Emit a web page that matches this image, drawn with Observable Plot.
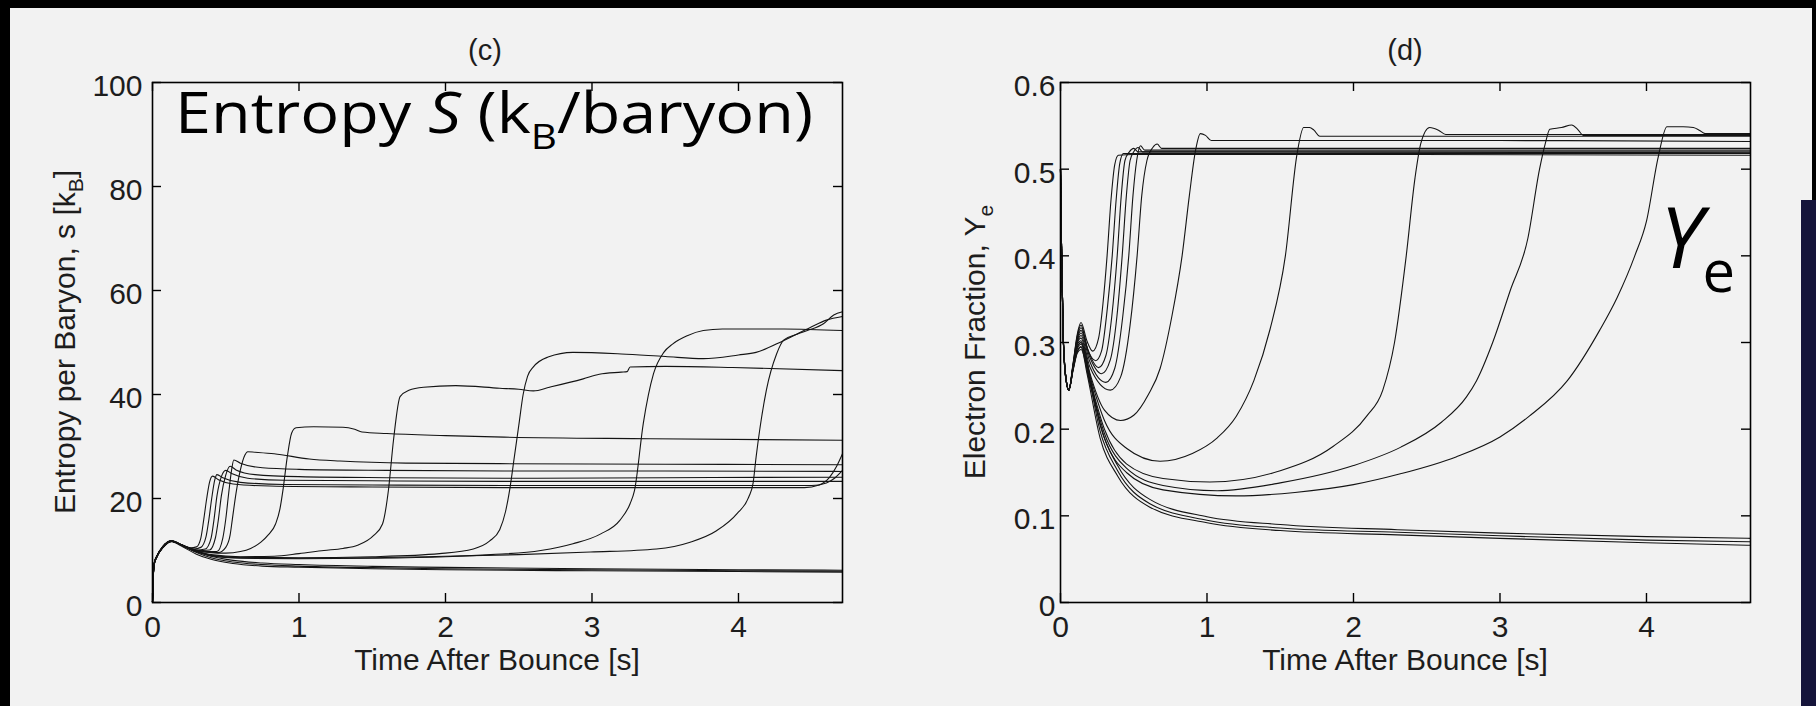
<!DOCTYPE html>
<html><head><meta charset="utf-8">
<script src="https://cdn.jsdelivr.net/npm/d3@7"></script>
<script src="https://cdn.jsdelivr.net/npm/@observablehq/plot@0.6"></script>
<style>
html,body{margin:0;padding:0;background:#000;}
body{width:1816px;height:706px;position:relative;overflow:hidden;}
#panel{position:absolute;left:10px;top:8px;width:1802px;height:698px;background:#f2f2f2;}
#strip{position:absolute;left:1801px;top:200px;width:15px;height:506px;background:#15143a;}
#c,#d{position:absolute;top:0;}
#c{left:0px}
#d{left:908px}
</style></head><body>
<div id="panel"></div><div id="strip"></div>
<div id="c"></div><div id="d"></div>
<script>
// ---------- ticks ----------
const timeTicks = [0, 1, 2, 3, 4];
const entropyTicks = [0, 20, 40, 60, 80, 100];
const yeTicks = [0, 0.1, 0.2, 0.3, 0.4, 0.5, 0.6];

// ---------- entropy (k_B/baryon) vs time after bounce (s) ----------
const entropyN1 = [[0,0],[0.004,4.2],[0.012,7.5],[0.03,8.9],[0.07,10.7],[0.13,11.8],[0.2,11.0],[0.3,9.6],[0.4,8.6],[0.55,7.8],[0.75,7.3],[1,7.0],[1.5,6.7],[2,6.5],[3,6.3],[4,6.1],[4.71,6.0]];
const entropyN2 = [[0,0],[0.004,4.0],[0.012,7.3],[0.03,8.8],[0.07,10.5],[0.13,11.7],[0.2,10.8],[0.3,9.3],[0.4,8.3],[0.55,7.5],[0.75,7.0],[1,6.8],[1.5,6.5],[2,6.3],[3,6.1],[4,5.95],[4.71,5.85]];
const entropyN3 = [[0,0],[0.004,4.4],[0.012,7.7],[0.03,9.0],[0.07,10.8],[0.13,11.9],[0.2,11.1],[0.3,9.8],[0.4,8.9],[0.55,8.1],[0.75,7.6],[1,7.3],[1.5,6.95],[2,6.75],[3,6.5],[4,6.3],[4.71,6.2]];
const entropyK1 = [[0,0],[0.004,4.0],[0.012,7.4],[0.03,8.8],[0.07,10.6],[0.13,11.8],[0.2,11.1],[0.26,10.5],[0.3,10.7],[0.33,12.4],[0.35,16],[0.37,20],[0.39,23.2],[0.41,24.3],[0.45,23.6],[0.55,22.8],[0.8,22.4],[1.5,22.2],[2.4,22.1],[3.5,22.1],[4.45,22.1],[4.55,22.6],[4.62,24],[4.67,26.2],[4.71,28.6]];
const entropyK2 = [[0,0],[0.004,4.1],[0.012,7.4],[0.03,8.8],[0.07,10.6],[0.13,11.8],[0.2,11.1],[0.28,10.3],[0.33,10.6],[0.365,12.6],[0.385,16],[0.405,20.2],[0.425,23.6],[0.44,24.6],[0.48,24.0],[0.6,23.1],[0.9,22.7],[1.5,22.6],[2.4,22.5],[3.5,22.5],[4.5,22.5],[4.6,23],[4.66,24],[4.71,25.4]];
const entropyK3 = [[0,0],[0.004,4.1],[0.012,7.4],[0.03,8.8],[0.07,10.6],[0.13,11.8],[0.2,11.0],[0.3,10.1],[0.36,10.3],[0.4,12.4],[0.42,16],[0.44,20.5],[0.47,24.2],[0.5,25.4],[0.54,24.8],[0.65,23.9],[0.9,23.5],[1.5,23.4],[2.4,23.3],[4.71,23.3]];
const entropyK4 = [[0,0],[0.004,4.2],[0.012,7.5],[0.03,8.9],[0.07,10.6],[0.13,11.8],[0.2,11.0],[0.3,10.0],[0.39,10.1],[0.43,12.5],[0.45,16],[0.47,20.5],[0.5,24.5],[0.53,26.2],[0.57,25.5],[0.7,24.6],[1,24.2],[1.6,24.0],[2.4,23.9],[3.5,24.0],[4.71,24.1]];
const entropyK5 = [[0,0],[0.004,4.2],[0.012,7.5],[0.03,8.9],[0.07,10.6],[0.13,11.8],[0.2,11.0],[0.3,9.9],[0.44,9.8],[0.48,12.4],[0.5,16],[0.52,21],[0.54,25.5],[0.555,27.4],[0.6,26.8],[0.75,25.9],[1,25.6],[1.6,25.4],[2.4,25.3],[3.5,25.3],[4.71,25.2]];
const entropyK6 = [[0,0],[0.004,4.3],[0.012,7.6],[0.03,8.9],[0.07,10.7],[0.13,11.8],[0.2,11.0],[0.3,9.8],[0.45,9.6],[0.5,10.6],[0.53,13],[0.545,16],[0.57,21],[0.6,25.5],[0.63,28.3],[0.65,29.0],[0.7,28.9],[0.83,28.6],[1.07,27.6],[1.28,27.2],[1.73,26.8],[2.37,26.7],[3.5,26.6],[4.71,26.5]];
const entropyA = [[0,0],[0.004,4.2],[0.012,7.5],[0.03,8.9],[0.07,10.7],[0.13,11.8],[0.2,11.0],[0.3,10.1],[0.4,9.6],[0.5,9.5],[0.6,9.8],[0.67,10.4],[0.74,11.6],[0.79,13],[0.84,15.1],[0.87,18],[0.89,21.5],[0.92,28],[0.95,32.6],[0.98,33.6],[1.1,33.8],[1.3,33.7],[1.38,33.3],[1.43,32.8],[1.6,32.5],[2,32.1],[2.4,31.8],[3.4,31.5],[4.71,31.2]];
const entropyB = [[0,0],[0.004,4.3],[0.012,7.6],[0.03,8.9],[0.07,10.7],[0.13,11.8],[0.2,11.0],[0.3,9.9],[0.4,9.2],[0.6,8.8],[0.83,8.9],[1,9.4],[1.17,10.0],[1.3,10.4],[1.4,11],[1.51,12.9],[1.57,15.1],[1.61,21.5],[1.645,31.2],[1.69,39.6],[1.75,40.8],[1.85,41.4],[2.07,41.7],[2.37,41.2],[2.5,41.0],[2.6,40.7],[2.71,41.4],[2.94,43.0],[3.05,43.9],[3.2,44.3],[3.24,44.4],[3.26,45.3],[3.5,45.4],[3.96,45.2],[4.71,44.6]];
const entropyC = [[0,0],[0.004,4.2],[0.012,7.5],[0.03,8.9],[0.07,10.7],[0.13,11.8],[0.2,11.0],[0.3,9.9],[0.4,9.1],[0.6,8.7],[1,8.6],[1.5,8.8],[1.96,9.4],[2.19,10.3],[2.3,11.8],[2.37,14],[2.41,17.5],[2.44,22],[2.47,28],[2.5,34],[2.53,40],[2.56,43.5],[2.6,45.3],[2.7,47.2],[2.87,48.1],[3.2,47.8],[3.5,47.3],[3.76,46.9],[4,47.6],[4.12,48.1],[4.31,50.4],[4.49,52.9],[4.6,54.3],[4.71,55.0]];
const entropyD = [[0,0],[0.004,4.1],[0.012,7.4],[0.03,8.8],[0.07,10.6],[0.13,11.8],[0.2,11.0],[0.3,9.8],[0.4,9.0],[0.6,8.5],[1,8.4],[1.5,8.5],[2,8.8],[2.31,9.2],[2.65,10.0],[2.87,11.3],[3.06,13.2],[3.19,15.8],[3.26,19],[3.29,21.5],[3.35,34.4],[3.42,44],[3.49,48.1],[3.55,49.7],[3.65,51.3],[3.76,52.3],[3.89,52.6],[4.31,52.6],[4.71,52.3]];
const entropyE = [[0,0],[0.004,4.1],[0.012,7.4],[0.03,8.8],[0.07,10.6],[0.13,11.8],[0.2,11.0],[0.3,9.8],[0.4,9.0],[0.6,8.6],[1,8.5],[1.5,8.6],[2,8.9],[2.5,9.2],[2.99,9.7],[3.44,10.3],[3.67,11.6],[3.85,13.8],[3.99,17.1],[4.07,20.3],[4.1,23],[4.12,27.9],[4.19,40.8],[4.26,47.8],[4.31,50.5],[4.4,51.6],[4.47,52.3],[4.58,53.6],[4.65,55.3],[4.71,55.9]];

// ---------- electron fraction Ye vs time after bounce (s) ----------
const yeN1 = [[0,0.5],[0.006,0.42],[0.018,0.31],[0.035,0.262],[0.057,0.245],[0.085,0.27],[0.115,0.295],[0.14,0.3],[0.18,0.272],[0.27,0.198],[0.39,0.152],[0.61,0.114],[1,0.095],[1.5,0.086],[2.3,0.081],[3,0.077],[4,0.072],[4.71,0.07]];
const yeN2 = [[0,0.5],[0.006,0.42],[0.018,0.31],[0.035,0.262],[0.057,0.245],[0.085,0.268],[0.115,0.29],[0.14,0.295],[0.18,0.265],[0.27,0.19],[0.39,0.146],[0.61,0.11],[1,0.092],[1.5,0.083],[2.3,0.078],[3,0.074],[4,0.069],[4.71,0.066]];
const yeN3 = [[0,0.5],[0.006,0.42],[0.018,0.31],[0.035,0.262],[0.057,0.245],[0.085,0.272],[0.115,0.298],[0.14,0.302],[0.18,0.278],[0.27,0.205],[0.39,0.158],[0.61,0.119],[1,0.099],[1.5,0.09],[2.3,0.084],[3,0.08],[4,0.076],[4.71,0.074]];
const yeK1 = [[0,0.5],[0.006,0.42],[0.018,0.31],[0.035,0.262],[0.057,0.245],[0.085,0.275],[0.115,0.31],[0.14,0.323],[0.18,0.302],[0.22,0.29],[0.26,0.305],[0.29,0.345],[0.318,0.4],[0.345,0.465],[0.37,0.505],[0.395,0.516],[0.5,0.517],[1.5,0.517],[4.71,0.516]];
const yeK2 = [[0,0.5],[0.006,0.42],[0.018,0.31],[0.035,0.262],[0.057,0.245],[0.085,0.274],[0.115,0.308],[0.14,0.32],[0.18,0.295],[0.24,0.279],[0.28,0.29],[0.32,0.34],[0.353,0.4],[0.38,0.465],[0.405,0.507],[0.43,0.518],[0.6,0.518],[4.71,0.518]];
const yeK3 = [[0,0.5],[0.006,0.42],[0.018,0.31],[0.035,0.262],[0.057,0.245],[0.085,0.273],[0.115,0.306],[0.14,0.317],[0.19,0.29],[0.26,0.271],[0.31,0.285],[0.35,0.33],[0.387,0.4],[0.415,0.47],[0.44,0.51],[0.47,0.52],[0.5,0.524],[0.53,0.52],[4.71,0.519]];
const yeK4 = [[0,0.5],[0.006,0.42],[0.018,0.31],[0.035,0.262],[0.057,0.245],[0.085,0.272],[0.115,0.304],[0.14,0.314],[0.2,0.283],[0.28,0.264],[0.34,0.28],[0.385,0.33],[0.421,0.4],[0.45,0.47],[0.475,0.51],[0.5,0.52],[0.53,0.525],[0.56,0.52],[4.71,0.52]];
const yeK5 = [[0,0.5],[0.006,0.42],[0.018,0.31],[0.035,0.262],[0.057,0.245],[0.085,0.271],[0.115,0.302],[0.14,0.311],[0.2,0.278],[0.31,0.254],[0.37,0.27],[0.425,0.33],[0.466,0.4],[0.495,0.47],[0.52,0.51],[0.546,0.527],[0.575,0.522],[4.71,0.522]];
const yeK6 = [[0,0.5],[0.006,0.42],[0.018,0.31],[0.035,0.262],[0.057,0.245],[0.085,0.27],[0.115,0.3],[0.14,0.308],[0.2,0.272],[0.34,0.245],[0.41,0.26],[0.475,0.32],[0.523,0.4],[0.555,0.47],[0.59,0.51],[0.63,0.525],[0.66,0.529],[0.69,0.524],[4.71,0.524]];
const yeA = [[0,0.5],[0.006,0.42],[0.018,0.31],[0.035,0.26],[0.057,0.245],[0.085,0.272],[0.115,0.3],[0.14,0.305],[0.2,0.265],[0.3,0.222],[0.41,0.21],[0.5,0.216],[0.6,0.24],[0.68,0.27],[0.76,0.33],[0.83,0.4],[0.88,0.47],[0.92,0.52],[0.955,0.541],[0.99,0.539],[1.03,0.533],[2,0.533],[3,0.533],[4.71,0.532]];
const yeB = [[0,0.5],[0.006,0.42],[0.018,0.31],[0.035,0.26],[0.057,0.245],[0.085,0.27],[0.115,0.295],[0.14,0.3],[0.2,0.262],[0.3,0.21],[0.45,0.178],[0.68,0.163],[0.9,0.172],[1.07,0.19],[1.2,0.215],[1.32,0.256],[1.43,0.315],[1.535,0.4],[1.615,0.518],[1.66,0.548],[1.7,0.548],[1.73,0.545],[1.77,0.538],[2.5,0.538],[3.5,0.538],[4.71,0.538]];
const yeC = [[0,0.5],[0.006,0.42],[0.018,0.31],[0.035,0.26],[0.057,0.245],[0.085,0.269],[0.115,0.293],[0.14,0.298],[0.2,0.258],[0.3,0.2],[0.45,0.16],[0.7,0.143],[1.02,0.139],[1.5,0.152],[1.86,0.18],[2.09,0.215],[2.2,0.245],[2.28,0.3],[2.36,0.4],[2.42,0.49],[2.46,0.53],[2.52,0.548],[2.58,0.545],[2.63,0.54],[3.5,0.54],[4.71,0.54]];
const yeD = [[0,0.5],[0.006,0.42],[0.018,0.31],[0.035,0.26],[0.057,0.245],[0.085,0.268],[0.115,0.29],[0.14,0.295],[0.2,0.255],[0.3,0.195],[0.45,0.155],[0.7,0.135],[1.07,0.129],[1.5,0.138],[2,0.158],[2.32,0.179],[2.6,0.208],[2.77,0.237],[2.84,0.256],[2.95,0.3],[3.07,0.36],[3.19,0.42],[3.27,0.5],[3.31,0.53],[3.34,0.546],[3.42,0.548],[3.49,0.551],[3.53,0.546],[3.57,0.539],[4.71,0.539]];
const yeE = [[0,0.5],[0.006,0.42],[0.018,0.31],[0.035,0.26],[0.057,0.245],[0.085,0.267],[0.115,0.288],[0.14,0.292],[0.2,0.253],[0.3,0.19],[0.45,0.15],[0.7,0.13],[1.2,0.123],[1.6,0.127],[2,0.136],[2.32,0.1485],[2.7,0.168],[3,0.191],[3.2,0.215],[3.46,0.256],[3.68,0.314],[3.8,0.352],[3.92,0.4],[4,0.44],[4.08,0.514],[4.14,0.549],[4.25,0.549],[4.32,0.548],[4.36,0.545],[4.4,0.541],[4.71,0.541]];

// ---------- build tables ----------
const entropySeries = [["N1",entropyN1],["N2",entropyN2],["N3",entropyN3],["K1",entropyK1],["K2",entropyK2],["K3",entropyK3],["K4",entropyK4],["K5",entropyK5],["K6",entropyK6],["A",entropyA],["B",entropyB],["C",entropyC],["D",entropyD],["E",entropyE]];
const yeSeries = [["N1",yeN1],["N2",yeN2],["N3",yeN3],["K1",yeK1],["K2",yeK2],["K3",yeK3],["K4",yeK4],["K5",yeK5],["K6",yeK6],["A",yeA],["B",yeB],["C",yeC],["D",yeD],["E",yeE]];
const toRows = list => list.flatMap(([id, pts]) => pts.map(([t, v]) => ({id, t, v})));

const W = 908, H = 706, mL = 152, mR = 66, mT = 82, mB = 104;
const plotW = W - mL - mR, plotH = H - mT - mB;
const FONT = "'Liberation Sans', Arial, Helvetica, sans-serif";
const INK = "#1d1d1d";

function makePanel(rows, yDomain, yTicks, yPad) {
  return Plot.plot({
    width: W, height: H,
    marginLeft: mL, marginRight: mR, marginTop: mT, marginBottom: mB,
    style: {background: "transparent", fontFamily: FONT, fontSize: "30px", color: INK, overflow: "visible"},
    x: {domain: [0, 4.71]},
    y: {domain: yDomain},
    marks: [
      Plot.line(rows, {x: "t", y: "v", z: "id", curve: "monotone-x", stroke: "#141414", strokeWidth: 1.1}),
      Plot.frame({stroke: "#000", strokeWidth: 1.6}),
      Plot.ruleX(timeTicks, {x: d => d, insetTop: plotH - 9, stroke: "#000", strokeWidth: 1.4}),
      Plot.ruleX(timeTicks, {x: d => d, insetBottom: plotH - 9, stroke: "#000", strokeWidth: 1.4}),
      Plot.ruleY(yTicks, {y: d => d, insetRight: plotW - 9, stroke: "#000", strokeWidth: 1.4}),
      Plot.ruleY(yTicks, {y: d => d, insetLeft: plotW - 9, stroke: "#000", strokeWidth: 1.4}),
      Plot.axisX({ticks: timeTicks, tickSize: 0, tickPadding: 13, tickFormat: v => `${v}`, label: null}),
      Plot.axisY({ticks: yTicks, tickSize: 0, tickPadding: yPad, dy: 4, tickFormat: v => `${v}`, label: null})
    ]
  });
}

// text helper with subscripts / italics
function addText(svg, {x, y, rotate = 0, size, family = FONT, anchor = "middle", parts, fill = INK, textLength}) {
  const t = d3.select(svg).append("text")
    .attr("transform", `translate(${x},${y}) rotate(${rotate})`)
    .attr("text-anchor", anchor)
    .attr("font-family", family)
    .attr("font-size", size)
    .attr("fill", fill);
  if (textLength) t.attr("textLength", textLength).attr("lengthAdjust", "spacingAndGlyphs");
  let back = 0;
  for (const [str, kind, subSize] of parts) {
    const s = t.append("tspan").text(str);
    if (kind === "sub") {
      const shift = size * 0.28;
      s.attr("font-size", subSize || size * 0.7).attr("dy", shift + back);
      back = -shift;
    } else {
      if (back) { s.attr("dy", back); back = 0; }
      if (kind === "italic") s.attr("font-style", "italic");
    }
  }
  return t;
}

// ----- panel (c) -----
const c = makePanel(toRows(entropySeries), [0, 100], entropyTicks, 10);
document.getElementById("c").appendChild(c);
addText(c, {x: 485, y: 60, size: 29, parts: [["(c)"]]});
addText(c, {x: mL + plotW / 2, y: 670, size: 30, parts: [["Time After Bounce [s]"]]});
addText(c, {x: 75, y: mT + plotH / 2, rotate: -90, size: 30, parts: [["Entropy per Baryon, s [k"], ["B", "sub"], ["]"]]});
addText(c, {x: 175, y: 133, size: 56, anchor: "start", family: "'Open Sans', 'Noto Sans', sans-serif", fill: "#000", textLength: 638,
  parts: [["Entropy "], ["S", "italic"], [" (k"], ["B", "sub", 35], ["/baryon)"]]});

// ----- panel (d) -----
const d = makePanel(toRows(yeSeries), [0, 0.6], yeTicks, 5);
document.getElementById("d").appendChild(d);
addText(d, {x: mL + plotW / 2, y: 60, size: 29, parts: [["(d)"]]});
addText(d, {x: mL + plotW / 2, y: 670, size: 30, parts: [["Time After Bounce [s]"]]});
addText(d, {x: 77, y: mT + plotH / 2, rotate: -90, size: 30, parts: [["Electron Fraction, Y"], ["e", "sub"]]});
addText(d, {x: 1660 - 908, y: 268, size: 84, anchor: "start", family: "'Open Sans', 'Noto Sans', sans-serif", fill: "#000",
  parts: [["Y", "italic"], ["e", "sub", 58]]});
</script>
</body></html>
